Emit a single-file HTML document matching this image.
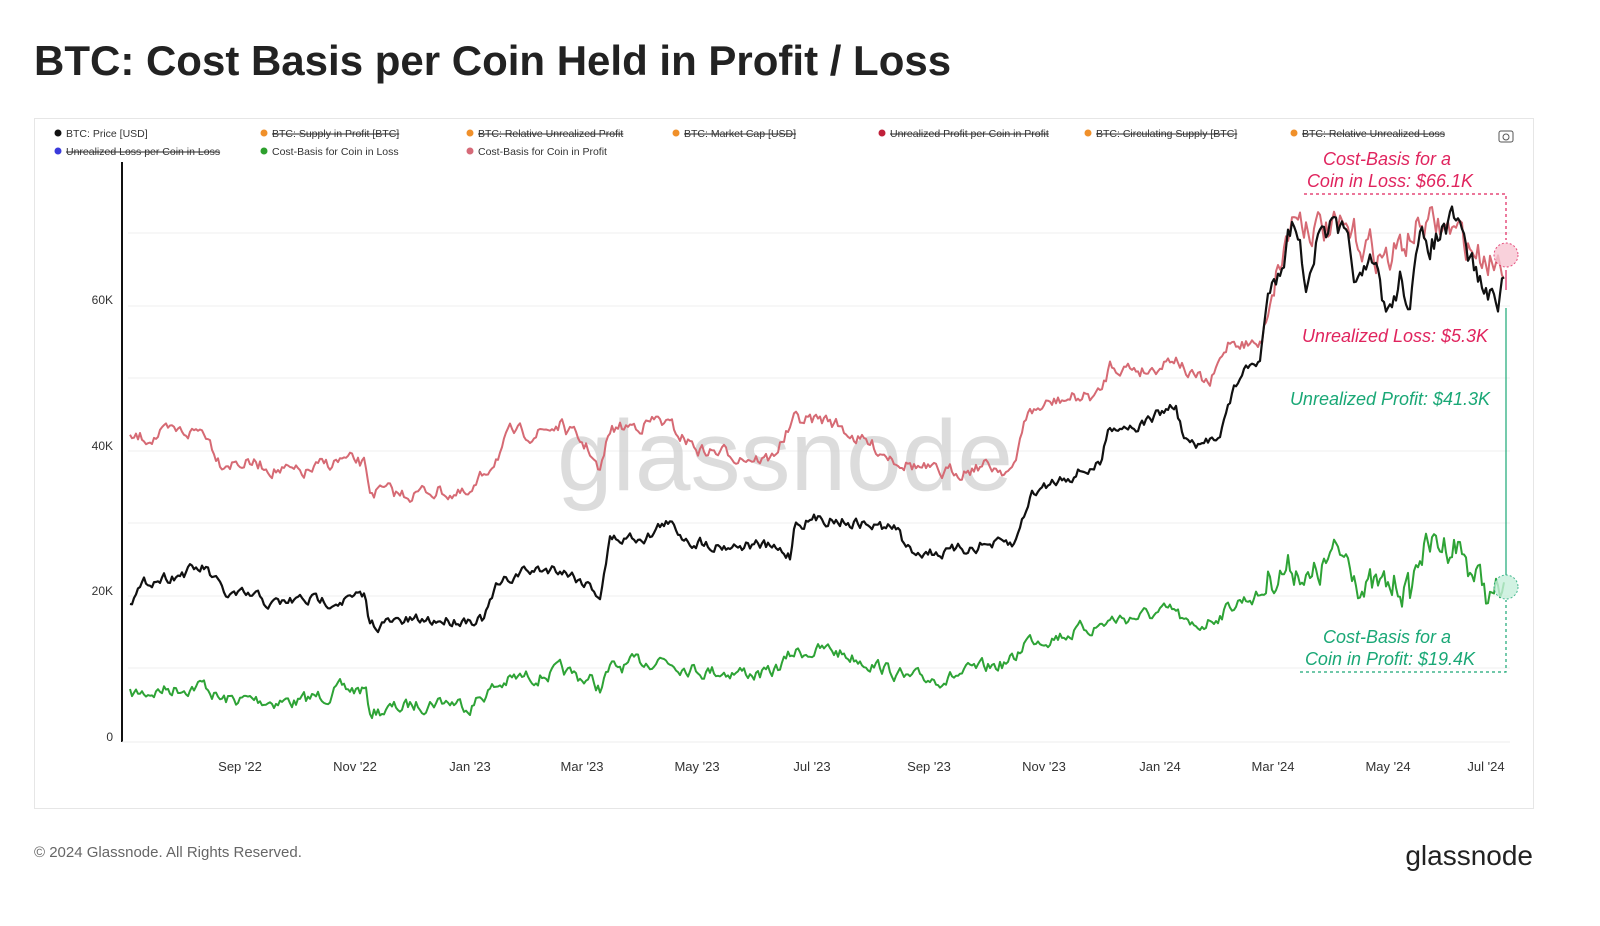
<!DOCTYPE html><html><head><meta charset="utf-8"><style>
body{margin:0;background:#fff;width:1600px;height:921px;overflow:hidden;font-family:"Liberation Sans",sans-serif}
</style></head><body>
<svg id="s" width="1600" height="921" xmlns="http://www.w3.org/2000/svg" font-family="Liberation Sans, sans-serif">
<text x="34" y="75" font-size="42" font-weight="bold" fill="#222">BTC: Cost Basis per Coin Held in Profit / Loss</text>
<rect x="34.5" y="118.5" width="1499" height="690" fill="#fff" stroke="#e6e6e6"/>
<g stroke="#efefef" stroke-width="1">
<line x1="128" x2="1510" y1="233" y2="233"/><line x1="128" x2="1510" y1="306" y2="306"/><line x1="128" x2="1510" y1="378" y2="378"/><line x1="128" x2="1510" y1="451" y2="451"/><line x1="128" x2="1510" y1="523" y2="523"/><line x1="128" x2="1510" y1="596" y2="596"/><line x1="128" x2="1510" y1="668" y2="668"/>
</g>
<line x1="122" x2="122" y1="162" y2="742" stroke="#111" stroke-width="2"/>
<line x1="122" x2="1510" y1="742" y2="742" stroke="#eee"/>
<g font-size="12" fill="#333" text-anchor="end"><text x="113" y="304">60K</text><text x="113" y="450">40K</text><text x="113" y="595">20K</text><text x="113" y="741">0</text></g>
<g font-size="13" fill="#333" text-anchor="middle"><text x="240" y="771">Sep '22</text><text x="355" y="771">Nov '22</text><text x="470" y="771">Jan '23</text><text x="582" y="771">Mar '23</text><text x="697" y="771">May '23</text><text x="812" y="771">Jul '23</text><text x="929" y="771">Sep '23</text><text x="1044" y="771">Nov '23</text><text x="1160" y="771">Jan '24</text><text x="1273" y="771">Mar '24</text><text x="1388" y="771">May '24</text><text x="1486" y="771">Jul '24</text></g>
<text x="785" y="490" font-size="100" fill="#d4d4d4" text-anchor="middle" opacity="0.8">glassnode</text>
<g font-size="10.5" fill="#333">
<circle cx="58" cy="133" r="3.5" fill="#111"/><text x="66" y="137">BTC: Price [USD]</text>
<circle cx="264" cy="133" r="3.5" fill="#f0902a"/><text x="272" y="137" text-decoration="line-through">BTC: Supply in Profit [BTC]</text>
<circle cx="470" cy="133" r="3.5" fill="#f0902a"/><text x="478" y="137" text-decoration="line-through">BTC: Relative Unrealized Profit</text>
<circle cx="676" cy="133" r="3.5" fill="#f0902a"/><text x="684" y="137" text-decoration="line-through">BTC: Market Cap [USD]</text>
<circle cx="882" cy="133" r="3.5" fill="#c0203a"/><text x="890" y="137" text-decoration="line-through">Unrealized Profit per Coin in Profit</text>
<circle cx="1088" cy="133" r="3.5" fill="#f0902a"/><text x="1096" y="137" text-decoration="line-through">BTC: Circulating Supply [BTC]</text>
<circle cx="1294" cy="133" r="3.5" fill="#f0902a"/><text x="1302" y="137" text-decoration="line-through">BTC: Relative Unrealized Loss</text>
<circle cx="58" cy="151" r="3.5" fill="#3a3adb"/><text x="66" y="155" text-decoration="line-through">Unrealized Loss per Coin in Loss</text>
<circle cx="264" cy="151" r="3.5" fill="#2da02d"/><text x="272" y="155">Cost-Basis for Coin in Loss</text>
<circle cx="470" cy="151" r="3.5" fill="#d66a78"/><text x="478" y="155">Cost-Basis for Coin in Profit</text>
</g>
<rect x="1499" y="131" width="14" height="11" rx="2" fill="none" stroke="#555"/><circle cx="1506" cy="137" r="3" fill="none" stroke="#555"/>
<g id="lines"></g>
<g fill="none" stroke-width="1.2" stroke-dasharray="3,3">
<polyline points="1304,194 1506,194 1506,240" stroke="#e0245e"/>
<polyline points="1300,672 1506,672 1506,600" stroke="#1aa876"/>
</g>
<line x1="1506" y1="270" x2="1506" y2="290" stroke="#e0245e" stroke-width="1.2"/>
<line x1="1506" y1="308" x2="1506" y2="575" stroke="#1aa876" stroke-width="1.2"/>
<circle cx="1506" cy="255" r="12" fill="#f8c6d3" stroke="#e0245e" stroke-dasharray="2,2" opacity="0.8"/>
<circle cx="1506" cy="587" r="12" fill="#c6f0dc" stroke="#1aa876" stroke-dasharray="2,2" opacity="0.8"/>
<g font-size="18" font-style="italic" text-anchor="middle">
<text x="1387" y="165" fill="#e0245e">Cost-Basis for a</text><text x="1390" y="187" fill="#e0245e">Coin in Loss: $66.1K</text>
<text x="1395" y="342" fill="#e0245e">Unrealized Loss: $5.3K</text>
<text x="1390" y="405" fill="#1aa876">Unrealized Profit: $41.3K</text>
<text x="1387" y="643" fill="#1aa876">Cost-Basis for a</text><text x="1390" y="665" fill="#1aa876">Coin in Profit: $19.4K</text>
</g>
<text x="34" y="857" font-size="15" fill="#666">© 2024 Glassnode. All Rights Reserved.</text>
<text x="1533" y="865" font-size="28" fill="#222" text-anchor="end">glassnode</text>
</svg>
<script>
var P=[[130,600],[150,580],[175,575],[205,568],[225,595],[260,598],[270,605],[300,600],[330,600],[365,598],[370,625],[400,622],[440,620],[485,618],[495,590],[520,572],[560,568],[590,585],[600,595],[610,540],[650,535],[665,522],[690,540],[720,545],[760,545],[790,555],[795,522],[830,518],[870,525],[900,530],[905,550],[950,553],[980,545],[1015,545],[1030,495],[1060,478],[1100,465],[1110,425],[1140,425],[1175,405],[1185,440],[1200,450],[1220,430],[1240,375],[1260,360],[1270,290],[1295,215],[1305,280],[1315,245],[1330,230],[1345,245],[1360,285],[1375,270],[1388,315],[1400,280],[1410,295],[1420,250],[1440,235],[1455,225],[1470,260],[1490,300],[1500,295],[1505,285]];
var R=[[130,440],[160,435],[205,430],[220,460],[260,465],[300,475],[340,460],[365,465],[370,490],[400,495],[440,490],[470,498],[490,465],[510,435],[540,432],[560,425],[590,450],[600,475],[610,430],[660,420],[700,450],[740,455],[770,460],[795,420],[830,420],[860,440],[900,460],[940,475],[980,465],[1015,470],[1025,415],[1060,400],[1100,395],[1110,365],[1150,370],[1175,355],[1190,375],[1210,385],[1230,340],[1260,345],[1270,290],[1295,212],[1320,228],[1360,240],[1390,260],[1420,225],[1450,230],[1480,255],[1505,258]];
var G=[[130,695],[160,690],[205,685],[220,700],[260,700],[300,702],[340,690],[365,690],[370,712],[400,708],[440,700],[470,705],[490,690],[510,680],[540,675],[560,672],[590,680],[600,688],[610,670],[660,658],[700,670],[740,672],[770,675],[795,652],[830,650],[870,662],[900,675],[905,680],[950,677],[980,670],[1015,660],[1025,640],[1060,635],[1100,625],[1110,620],[1150,615],[1175,612],[1190,630],[1210,620],[1240,600],[1260,595],[1270,575],[1300,565],[1310,585],[1330,560],[1350,555],[1365,590],[1390,590],[1400,580],[1410,595],[1420,550],[1440,545],[1455,540],[1475,575],[1490,598],[1505,590]];
var seed=7;function rnd(){seed=(seed*16807)%2147483647;return seed/2147483647-0.5;}
function mk(K,amp,col,w){var s="",o=0;for(var x=130;x<=1505;x+=2){var i=0;while(i<K.length-2&&K[i+1][0]<x)i++;var a=K[i],b=K[i+1];var t=Math.max(0,Math.min(1,(x-a[0])/(b[0]-a[0])));o=o*0.6+rnd()*amp*(x>1260?2.5:1);var y=a[1]+(b[1]-a[1])*t+o;s+=x+","+y.toFixed(1)+" ";}
return '<polyline points="'+s+'" fill="none" stroke="'+col+'" stroke-width="'+w+'" stroke-linejoin="round"/>';}
document.getElementById("lines").innerHTML=mk(G,12,"#2ea336",2)+mk(R,12,"#d66a74",2)+mk(P,10,"#111",2.2);
</script>
</body></html>
